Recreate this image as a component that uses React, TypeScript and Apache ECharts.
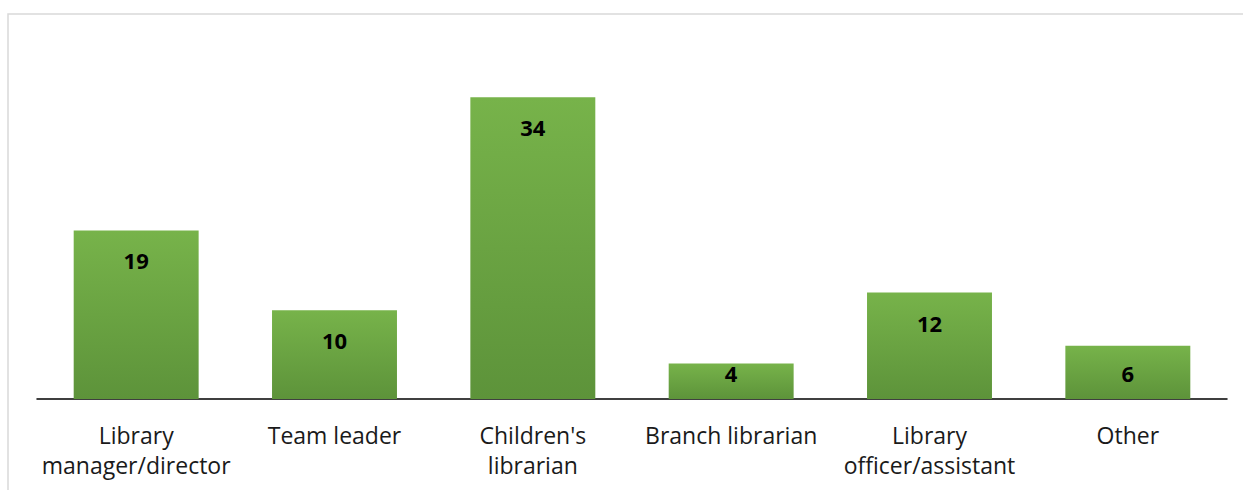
import React, { useEffect, useRef } from "react";
import * as echarts from "echarts";

const categories = [
  "Library\nmanager/director",
  "Team leader",
  "Children's\nlibrarian",
  "Branch librarian",
  "Library\nofficer/assistant",
  "Other",
];
const values = [19, 10, 34, 4, 12, 6];

const PX_PER_UNIT = 355 / 40;

export default function App() {
  const ref = useRef<HTMLDivElement>(null);
  useEffect(() => {
    const chart = echarts.init(ref.current!, null, { renderer: "svg" });
    const data = values.map((v) => ({
      value: v,
      label: { distance: Math.min(19, v * PX_PER_UNIT - 37) },
    }));
    chart.setOption({
      animation: false,
      backgroundColor: "#ffffff",
      graphic: [
        {
          type: "rect",
          shape: { x: 8, y: 14, width: 1300, height: 600 },
          style: { fill: "none", stroke: "#d9d9d9", lineWidth: 1.5 },
          silent: true,
        },
      ],
      grid: { left: 37, right: 16, top: 44, bottom: 91, containLabel: false },
      xAxis: {
        type: "category",
        data: categories,
        axisLine: { lineStyle: { color: "#000000", width: 1.5 } },
        axisTick: { show: false },
        axisLabel: {
          interval: 0,
          color: "#1a1a1a",
          fontFamily: "Open Sans",
          fontSize: 23,
          lineHeight: 30,
          margin: 21,
        },
      },
      yAxis: {
        type: "value",
        min: 0,
        max: 40,
        show: false,
        splitLine: { show: false },
      },
      series: [
        {
          type: "bar",
          data,
          barCategoryGap: "37%",
          itemStyle: {
            color: new echarts.graphic.LinearGradient(0, 0, 0, 1, [
              { offset: 0, color: "#77b34a" },
              { offset: 1, color: "#5d933a" },
            ]),
          },
          label: {
            show: true,
            position: "insideTop",
            distance: 19,
            color: "#000000",
            fontWeight: "bold",
            fontFamily: "Open Sans",
            fontSize: 22,
          },
        },
      ],
    });
    return () => chart.dispose();
  }, []);
  return (
    <div
      ref={ref}
      style={{ position: "fixed", left: 0, top: 0, width: 1243, height: 490 }}
    />
  );
}
